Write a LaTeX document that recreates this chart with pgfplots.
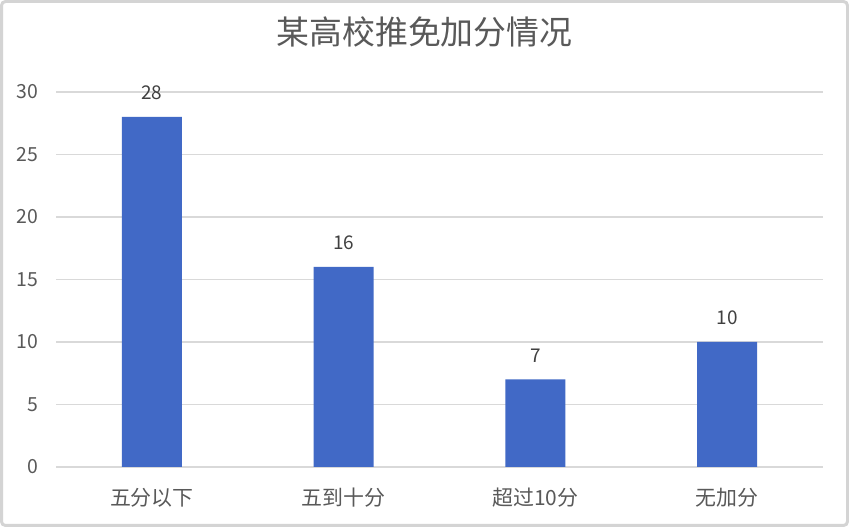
\documentclass[border=0pt]{standalone}
\usepackage{pgfplots}
\pgfplotsset{compat=1.18}
\usepackage{fontspec}
\setmainfont{Noto Sans CJK SC}

\definecolor{barblue}{HTML}{4169C6}
\definecolor{gridgray}{HTML}{D9D9D9}
\definecolor{textgray}{HTML}{595959}
\definecolor{labelgray}{HTML}{404040}
\definecolor{framegray}{HTML}{D4D4D4}

\begin{document}
\begin{tikzpicture}[x=1bp,y=1bp]
% outer frame of the chart area
\fill[white] (0,0) rectangle (849,527);
\draw[framegray, line width=3bp, rounded corners=4bp] (1.5,1.5) rectangle (847.5,525.5);

\begin{axis}[
    at={(56bp,60bp)}, anchor=south west,
    scale only axis,
    width=767bp, height=375bp,
    ybar, bar width=60bp,
    xmin=-0.5, xmax=3.5,
    ymin=0, ymax=30,
    xtick=data,
    xticklabels={五分以下,五到十分,超过10分,无加分},
    ytick={0,5,...,30},
    major tick length=0pt,
    axis line style={draw=none},
    ymajorgrids,
    major grid style={gridgray, line width=1.5bp},
    /pgf/number format/assume math mode=true,
    tick label style={font=\fontsize{19.5}{19.5}\selectfont, text=textgray},
    yticklabel style={anchor=east, inner sep=0pt, xshift=-18bp},
    xticklabel style={anchor=center, inner sep=0pt, yshift=-31bp,
        font=\fontsize{21}{21}\selectfont},
    title={某高校推免加分情况},
    title style={at={(0.5,1)}, anchor=center, yshift=54bp, xshift=-15bp,
        font=\fontsize{33}{33}\selectfont, text=textgray},
    nodes near coords,
    nodes near coords style={anchor=base, inner sep=0pt, yshift=17bp,
        font=\fontsize{19}{19}\selectfont, text=labelgray},
    enlargelimits=false,
    clip=false,
]
\addplot[fill=barblue, draw=none] coordinates {(0,28) (1,16) (2,7) (3,10)};
\end{axis}
\end{tikzpicture}
\end{document}
